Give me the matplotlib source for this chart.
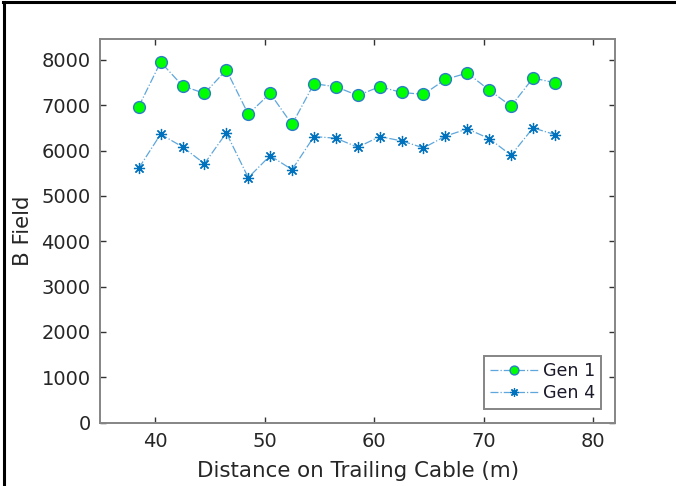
import numpy as np
import matplotlib.pyplot as plt
from matplotlib.lines import Line2D

# distance along the trailing cable (m)
distance = [38.5, 40.5, 42.5, 44.5, 46.5, 48.5, 50.5, 52.5, 54.5, 56.5,
            58.5, 60.5, 62.5, 64.5, 66.5, 68.5, 70.5, 72.5, 74.5, 76.5]

# measured B field per generation
gen1 = [6970, 7955, 7430, 7262, 7780, 6805, 7262, 6578, 7476, 7410,
        7217, 7410, 7284, 7240, 7571, 7712, 7336, 6982, 7602, 7498]
gen4 = [5611, 6363, 6082, 5712, 6392, 5403, 5889, 5580, 6310, 6274,
        6075, 6310, 6215, 6060, 6319, 6480, 6266, 5898, 6502, 6354]

xticks = [40, 50, 60, 70, 80]
yticks = [0, 1000, 2000, 3000, 4000, 5000, 6000, 7000, 8000]

line_col = '#5ea7dc'
blue = '#0072bd'
txt = '#262626'

fig = plt.figure(figsize=(6.76, 4.86), dpi=100)
ax = fig.add_axes([0.1485, 0.1305, 0.7615, 0.789])

ax.plot(distance, gen1, ls='-.', lw=0.9, color=line_col,
        marker='o', ms=8.5, mfc='#00ff00', mec='#2a7fc4', mew=1.0,
        label='Gen 1')
ax.plot(distance, gen4, ls='-.', lw=0.9, color=line_col,
        marker=(8, 2, 0), ms=8, mec=blue, mew=0.9,
        label='Gen 4')

ax.set_xlim(35, 82)
ax.set_ylim(0, 8460)
ax.set_xticks(xticks)
ax.set_yticks(yticks)
ax.tick_params(direction='in', length=4, width=1.0, color='#333333',
               top=True, right=True, labelsize=14, labelcolor=txt, pad=7)
for s in ax.spines.values():
    s.set_color('#858585')
    s.set_linewidth(1.4)

ax.set_xlabel('Distance on Trailing Cable (m)', fontsize=15.4, color=txt,
              labelpad=7)
ax.set_ylabel('B Field', fontsize=15.4, color=txt, labelpad=6)

leg = ax.legend(loc='lower right', fontsize=12.6, fancybox=False,
                framealpha=1, edgecolor='#858585', borderaxespad=0.8,
                handlelength=2.7, handletextpad=0.3, markerscale=0.75,
                borderpad=0.35, labelspacing=0.25)
leg.get_frame().set_linewidth(1.4)
for t in leg.get_texts():
    t.set_color('#1a1a2a')

# black frame along the top and left of the figure
fig.add_artist(Line2D([0.004, 1.0], [0.995, 0.995], transform=fig.transFigure,
                      color='black', lw=2.2))
fig.add_artist(Line2D([0.0065, 0.0065], [0.0, 0.995], transform=fig.transFigure,
                      color='black', lw=2.2))

fig.savefig('out.png', dpi=100)
